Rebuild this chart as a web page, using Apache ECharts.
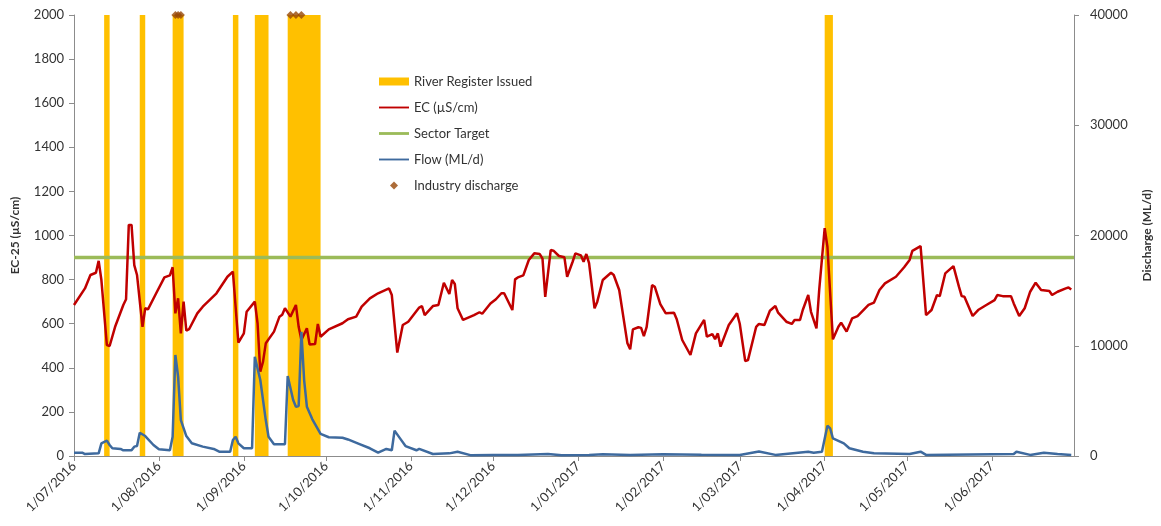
<!DOCTYPE html>
<html>

<head>
    <meta charset="utf-8">
    <title>EC and Flow</title>
    <script src="https://cdn.jsdelivr.net/npm/echarts@6/dist/echarts.min.js"></script>
</head>

<body style="margin:0">
    <div id="main" style="width: 1161px;height:526px;"></div>
    <script type="text/javascript">
        // EC readings (µS/cm)
        const ecDates = [
            '2016-07-01', '2016-07-05', '2016-07-07', '2016-07-09', '2016-07-10', '2016-07-11', '2016-07-13', '2016-07-14',
            '2016-07-16', '2016-07-19', '2016-07-20', '2016-07-21', '2016-07-22', '2016-07-23', '2016-07-24', '2016-07-26',
            '2016-07-27', '2016-07-28', '2016-07-31', '2016-08-03', '2016-08-05', '2016-08-06', '2016-08-07', '2016-08-08',
            '2016-08-09', '2016-08-10', '2016-08-11', '2016-08-12', '2016-08-15', '2016-08-17', '2016-08-22', '2016-08-26',
            '2016-08-28', '2016-08-30', '2016-09-01', '2016-09-02', '2016-09-05', '2016-09-06', '2016-09-07', '2016-09-08',
            '2016-09-09', '2016-09-12', '2016-09-14', '2016-09-15', '2016-09-16', '2016-09-18', '2016-09-20', '2016-09-21',
            '2016-09-22', '2016-09-24', '2016-09-25', '2016-09-27', '2016-09-28', '2016-09-29', '2016-10-02', '2016-10-07',
            '2016-10-09', '2016-10-12', '2016-10-14', '2016-10-17', '2016-10-20', '2016-10-24', '2016-10-25', '2016-10-27',
            '2016-10-29', '2016-10-31', '2016-11-04', '2016-11-05', '2016-11-06', '2016-11-09', '2016-11-11', '2016-11-13',
            '2016-11-15', '2016-11-16', '2016-11-17', '2016-11-18', '2016-11-20', '2016-11-24', '2016-11-26', '2016-11-27',
            '2016-11-30', '2016-12-02', '2016-12-04', '2016-12-05', '2016-12-08', '2016-12-09', '2016-12-10', '2016-12-12',
            '2016-12-14', '2016-12-16', '2016-12-18', '2016-12-19', '2016-12-20', '2016-12-22', '2016-12-23', '2016-12-25',
            '2016-12-27', '2016-12-28', '2016-12-30', '2016-12-31', '2017-01-02', '2017-01-03', '2017-01-04', '2017-01-05',
            '2017-01-07', '2017-01-08', '2017-01-10', '2017-01-13', '2017-01-14', '2017-01-16', '2017-01-19', '2017-01-20',
            '2017-01-21', '2017-01-23', '2017-01-24', '2017-01-25', '2017-01-26', '2017-01-28', '2017-01-29', '2017-01-31',
            '2017-02-02', '2017-02-05', '2017-02-06', '2017-02-08', '2017-02-11', '2017-02-13', '2017-02-16', '2017-02-17',
            '2017-02-19', '2017-02-20', '2017-02-21', '2017-02-22', '2017-02-25', '2017-02-28', '2017-03-01', '2017-03-03',
            '2017-03-04', '2017-03-07', '2017-03-08', '2017-03-10', '2017-03-12', '2017-03-14', '2017-03-15', '2017-03-18',
            '2017-03-20', '2017-03-21', '2017-03-23', '2017-03-24', '2017-03-26', '2017-03-27', '2017-03-29', '2017-03-30',
            '2017-04-01', '2017-04-02', '2017-04-04', '2017-04-06', '2017-04-07', '2017-04-09', '2017-04-11', '2017-04-13',
            '2017-04-17', '2017-04-19', '2017-04-21', '2017-04-23', '2017-04-27', '2017-04-30', '2017-05-02', '2017-05-03',
            '2017-05-06', '2017-05-08', '2017-05-10', '2017-05-12', '2017-05-13', '2017-05-15', '2017-05-18', '2017-05-20',
            '2017-05-21', '2017-05-22', '2017-05-25', '2017-05-27', '2017-05-30', '2017-06-02', '2017-06-03', '2017-06-05',
            '2017-06-08', '2017-06-09', '2017-06-11', '2017-06-13', '2017-06-15', '2017-06-17', '2017-06-19', '2017-06-22',
            '2017-06-23', '2017-06-25', '2017-06-28', '2017-06-29', '2017-06-30'
        ]
        const ecValues = [
            685, 760, 821, 831, 885, 798, 503, 499,
            586, 685, 711, 1048, 1048, 866, 821, 586,
            670, 665, 738, 810, 819, 856, 647, 715,
            556, 700, 568, 575, 647, 677, 738, 813,
            836, 514, 556, 654, 700, 602, 382, 428,
            511, 564, 632, 641, 670, 632, 685, 586,
            526, 579, 506, 508, 599, 541, 574, 602,
            620, 632, 677, 715, 738, 760, 730, 469,
            594, 609, 673, 680, 639, 680, 685, 786,
            735, 798, 780, 670, 617, 639, 652, 645,
            692, 711, 738, 738, 662, 801, 810, 819,
            889, 919, 916, 895, 722, 934, 931, 907,
            901, 813, 881, 919, 910, 881, 916, 875,
            670, 700, 798, 831, 821, 753, 511, 484,
            574, 584, 581, 544, 584, 775, 767, 689,
            647, 650, 620, 526, 458, 556, 617, 541,
            553, 530, 556, 496, 594, 647, 600, 430,
            435, 586, 599, 594, 659, 680, 650, 609,
            599, 617, 617, 662, 730, 654, 579, 753,
            1033, 949, 529, 586, 605, 564, 624, 634,
            685, 696, 753, 783, 813, 856, 889, 930,
            952, 639, 662, 730, 725, 828, 861, 768,
            725, 722, 635, 662, 685, 707, 730, 725,
            725, 692, 635, 670, 745, 786, 753, 748,
            730, 745, 760, 764, 755
        ]

        // flow (ML/d), right axis
        const flowDates = [
            '2016-07-01', '2016-07-04', '2016-07-05', '2016-07-10', '2016-07-11', '2016-07-13', '2016-07-14', '2016-07-15',
            '2016-07-18', '2016-07-19', '2016-07-22', '2016-07-23', '2016-07-24', '2016-07-25', '2016-07-27', '2016-07-30',
            '2016-08-01', '2016-08-05', '2016-08-06', '2016-08-07', '2016-08-08', '2016-08-09', '2016-08-11', '2016-08-13',
            '2016-08-17', '2016-08-21', '2016-08-23', '2016-08-27', '2016-08-28', '2016-08-29', '2016-08-30', '2016-09-01',
            '2016-09-04', '2016-09-05', '2016-09-07', '2016-09-09', '2016-09-10', '2016-09-12', '2016-09-16', '2016-09-17',
            '2016-09-19', '2016-09-20', '2016-09-21', '2016-09-22', '2016-09-23', '2016-09-24', '2016-09-26', '2016-09-29',
            '2016-10-02', '2016-10-07', '2016-10-09', '2016-10-13', '2016-10-17', '2016-10-20', '2016-10-23', '2016-10-25',
            '2016-10-26', '2016-10-28', '2016-10-30', '2016-11-03', '2016-11-04', '2016-11-09', '2016-11-15', '2016-11-18',
            '2016-11-23', '2016-12-01', '2016-12-10', '2016-12-21', '2016-12-26', '2017-01-05', '2017-01-10', '2017-01-20',
            '2017-02-01', '2017-02-15', '2017-03-01', '2017-03-08', '2017-03-14', '2017-03-26', '2017-03-28', '2017-03-31',
            '2017-04-02', '2017-04-03', '2017-04-04', '2017-04-08', '2017-04-10', '2017-04-15', '2017-04-19', '2017-05-02',
            '2017-05-06', '2017-05-08', '2017-06-09', '2017-06-10', '2017-06-15', '2017-06-20', '2017-06-25', '2017-06-30'
        ]
        const flowValues = [
            300, 300, 180, 240, 1150, 1390, 1000, 700,
            640, 520, 520, 850, 900, 2110, 1810, 1000,
            610, 520, 1750, 9160, 7200, 3260, 1810, 1150,
            850, 640, 390, 390, 1450, 1750, 1150, 700,
            700, 9000, 6890, 3260, 1750, 1060, 1060, 7260,
            5080, 4470, 4530, 11270, 6890, 4470, 3330, 2000,
            1700, 1660, 1500, 1100, 700, 300, 640, 520,
            2300, 1600, 900, 520, 640, 180, 240, 390,
            60, 80, 100, 180, 60, 100, 150, 80,
            150, 120, 100, 400, 100, 390, 300, 390,
            2750, 2500, 1600, 1150, 700, 390, 240, 180,
            390, 100, 180, 390, 100, 300, 180, 100
        ]

        const targetDates = ['2016-07-01', '2017-07-01']
        const targetValues = [900, 900]

        // river register periods
        const registerStart = ['2016-07-12', '2016-07-25', '2016-08-06', '2016-08-28', '2016-09-05', '2016-09-17', '2017-04-01']
        const registerEnd = ['2016-07-14', '2016-07-27', '2016-08-10', '2016-08-30', '2016-09-10', '2016-09-29', '2017-04-04']

        const dischargeDates = ['2016-08-07', '2016-08-08', '2016-08-09', '2016-09-18', '2016-09-20', '2016-09-22']
        const dischargeValues = [2000, 2000, 2000, 2000, 2000, 2000]

        const monthTicks = [
            '2016-07-01', '2016-08-01', '2016-09-01', '2016-10-01', '2016-11-01', '2016-12-01',
            '2017-01-01', '2017-02-01', '2017-03-01', '2017-04-01', '2017-05-01', '2017-06-01'
        ]
        const axisStart = '2016-07-01'
        const axisEnd = '2017-07-01'

        const toTime = d => +new Date(d + 'T00:00:00')
        const pair = (xs, ys) => xs.map((x, i) => [toTime(x), ys[i]])
        const tickTimes = monthTicks.map(toTime)
        const fontFamily = 'Lato, "Liberation Sans", sans-serif'
        const titleFont = '"Liberation Sans Narrow", Lato, sans-serif'
        const axisColor = '#8c8c8c'
        const textColor = '#333'
        // legend icons: thin bars for lines, small square-aspect diamond
        const lineIcon = 'path://M0,0H32V2H0Z'
        const thickLineIcon = 'path://M0,0H32V3H0Z'
        const diamondIcon = 'path://M4,0L8,4L4,8L0,4Z'

        var myChart = echarts.init(document.getElementById('main'))
        var option = {
            animation: false,
            textStyle: { fontFamily: fontFamily },
            grid: { left: 74, right: 83, top: 15, bottom: 70 },
            legend: {
                orient: 'vertical',
                left: 374,
                top: 70,
                itemWidth: 30,
                itemHeight: 8,
                itemGap: 13,
                textStyle: { fontSize: 13, color: textColor, fontFamily: fontFamily },
                data: [
                    { name: 'River Register Issued', icon: 'rect' },
                    { name: 'EC (µS/cm)', icon: lineIcon },
                    { name: 'Sector Target', icon: thickLineIcon },
                    { name: 'Flow (ML/d)', icon: lineIcon },
                    { name: 'Industry discharge', icon: diamondIcon }
                ]
            },
            xAxis: {
                type: 'value',
                min: toTime(axisStart),
                max: toTime(axisEnd),
                splitLine: { show: false },
                axisLine: { lineStyle: { color: axisColor } },
                axisTick: { show: true, length: 5, customValues: tickTimes, lineStyle: { color: axisColor } },
                axisLabel: {
                    customValues: tickTimes,
                    rotate: 45,
                    margin: 8,
                    fontSize: 13,
                    color: textColor,
                    formatter: function (v) {
                        const d = new Date(v)
                        const m = String(d.getMonth() + 1).padStart(2, '0')
                        return d.getDate() + '/' + m + '/' + d.getFullYear()
                    }
                }
            },
            yAxis: [{
                type: 'value',
                min: 0,
                max: 2000,
                interval: 200,
                name: 'EC-25 (µS/cm)',
                nameLocation: 'middle',
                nameGap: 53,
                nameTextStyle: { fontWeight: 'bold', fontSize: 12, color: textColor, fontFamily: titleFont },
                splitLine: { show: false },
                axisLine: { show: true, lineStyle: { color: axisColor } },
                axisTick: { show: true, length: 5, lineStyle: { color: axisColor } },
                axisLabel: { fontSize: 13, color: textColor, margin: 10, formatter: v => String(v) }
            }, {
                type: 'value',
                position: 'right',
                min: 0,
                max: 40000,
                interval: 10000,
                name: 'Discharge (ML/d)',
                nameLocation: 'middle',
                nameGap: 67,
                nameTextStyle: { fontWeight: 'bold', fontSize: 12, color: textColor, fontFamily: titleFont },
                splitLine: { show: false },
                axisLine: { show: true, lineStyle: { color: axisColor } },
                axisTick: { show: true, length: 5, lineStyle: { color: axisColor } },
                axisLabel: { fontSize: 13, color: textColor, margin: 16, formatter: v => String(v) }
            }],
            series: [{
                name: 'River Register Issued',
                type: 'line',
                color: '#FFC000',
                data: [],
                z: 0,
                markArea: {
                    silent: true,
                    z: 0,
                    itemStyle: { color: '#FFC000', opacity: 1 },
                    data: registerStart.map((s, i) => [{ xAxis: toTime(s) }, { xAxis: toTime(registerEnd[i]) }])
                }
            }, {
                name: 'EC (µS/cm)',
                type: 'line',
                color: '#C00000',
                symbol: 'none',
                z: 4,
                lineStyle: { width: 2.5, color: '#C00000' },
                data: pair(ecDates, ecValues)
            }, {
                name: 'Sector Target',
                type: 'line',
                color: '#9BBB59',
                symbol: 'none',
                z: 3,
                lineStyle: { width: 3.5, color: '#9BBB59' },
                data: pair(targetDates, targetValues)
            }, {
                name: 'Flow (ML/d)',
                type: 'line',
                yAxisIndex: 1,
                color: '#3E6A9E',
                symbol: 'none',
                z: 4,
                lineStyle: { width: 2.5, color: '#3E6A9E' },
                data: pair(flowDates, flowValues)
            }, {
                name: 'Industry discharge',
                type: 'scatter',
                color: '#974706',
                symbol: 'diamond',
                symbolSize: 8,
                clip: false,
                z: 5,
                data: pair(dischargeDates, dischargeValues)
            }]
        }
        myChart.setOption(option)
    </script>
</body>

</html>
